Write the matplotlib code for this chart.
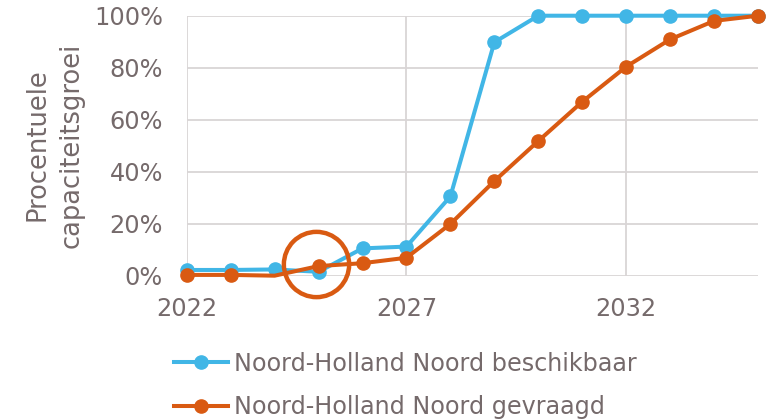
import numpy as np
import matplotlib.pyplot as plt

jaren = list(range(2022, 2036))
beschikbaar = [2.2, 2.2, 2.4, 1.5, 10.5, 11.2, 30.5, 89.8, 100, 100, 100, 100, 100, 100]
gevraagd = [0.3, 0.3, 0.0, 3.7, 4.8, 6.9, 19.9, 36.4, 51.8, 66.9, 80.4, 90.9, 98.0, 100]
xticks = [2022, 2027, 2032]
yticks = [0, 20, 40, 60, 80, 100]

blauw = '#41b6e6'
oranje = '#d95a12'
tekst = '#756a6b'
grijs = '#d9d5d6'

fig = plt.figure(figsize=(7.77, 4.2), dpi=100)
ax = fig.add_axes([0.2403, 0.3436, 0.7353, 0.619])

ax.plot(jaren, beschikbaar, color=blauw, lw=2.9, marker='o', ms=9.5,
        clip_on=False, zorder=3, label='Noord-Holland Noord beschikbaar')
# geen marker op 2024 bij de vraag
punten = [i for i in range(len(jaren)) if i != 2]
ax.plot(jaren, gevraagd, color=oranje, lw=2.9, marker='o', ms=9.5,
        markevery=punten, clip_on=False, zorder=4,
        label='Noord-Holland Noord gevraagd')

# cirkel rond 2025
ax.plot([2024.94], [4.5], marker='o', ms=47, mfc='none', mec=oranje,
        mew=3.2, clip_on=False, zorder=5)

ax.set_xlim(2022, 2035)
ax.set_ylim(0, 100)
ax.set_xticks(xticks)
ax.set_yticks(yticks)
ax.set_yticklabels([f'{v}%' for v in yticks])
ax.grid(True, color=grijs, lw=1.3)
ax.set_axisbelow(True)
for s in ax.spines.values():
    s.set_visible(False)
ax.tick_params(length=0, labelsize=17.3, colors=tekst)
ax.tick_params(axis='y', pad=17)
ax.tick_params(axis='x', pad=15)

fig.text(0.070, 0.655, 'Procentuele\ncapaciteitsgroei', rotation=90,
         ha='center', va='center', fontsize=18.5, color=tekst,
         linespacing=1.42)

leg = fig.legend(loc='upper left', frameon=False,
                 fontsize=17.2, handlelength=2.25, handletextpad=0.25,
                 labelspacing=0.8, borderaxespad=0)
leg.set_bbox_to_anchor((0.212, 0.185), transform=fig.transFigure)
for t in leg.get_texts():
    t.set_color(tekst)

fig.savefig('out.png', dpi=100)
